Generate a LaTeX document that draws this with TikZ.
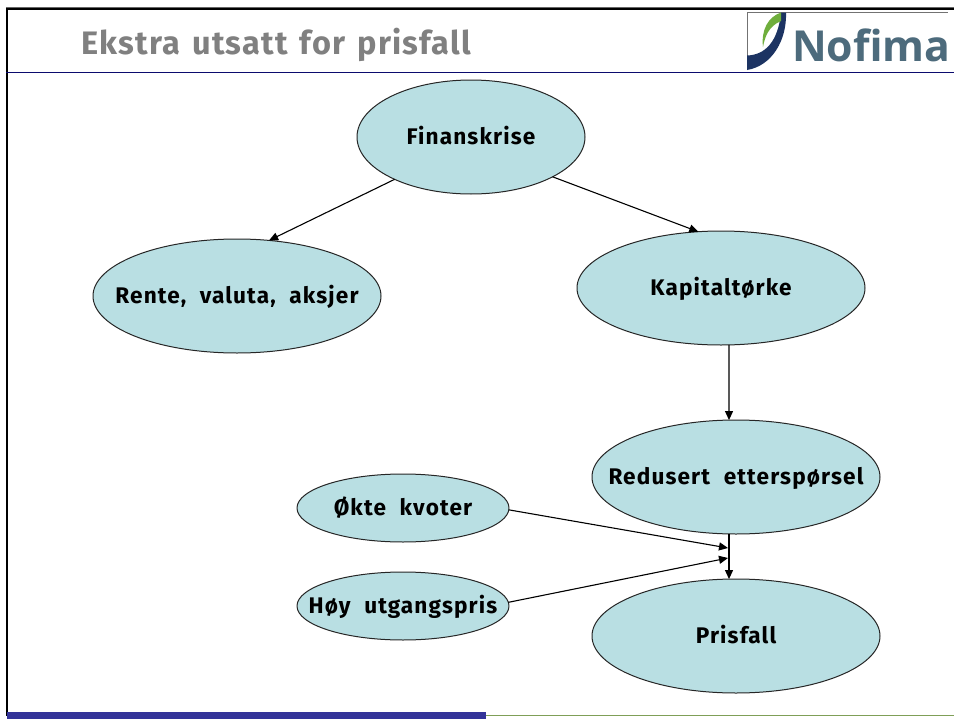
\documentclass[tikz,border=0pt]{standalone}
\usepackage{fontspec}
\setmainfont{Fira Sans}
\newfontfamily\logofont{Open Sans}
\newfontfamily\ovalfont[LetterSpace=5,WordSpace=2.1]{Fira Sans}
\newfontfamily\titlefont[LetterSpace=4,WordSpace=1.3]{Fira Sans}
\usetikzlibrary{arrows.meta,shapes.geometric}
\definecolor{nodefill}{HTML}{B9DFE3}
\definecolor{navyline}{HTML}{0B0B6E}
\definecolor{barblue}{HTML}{333399}
\definecolor{barline}{HTML}{7F9F57}
\definecolor{logotext}{HTML}{4D6B7C}
\definecolor{logonavy}{HTML}{1C3362}
\definecolor{logogreen}{HTML}{6FAE3C}
\newcommand{\ovaltext}[1]{\makebox[0pt][c]{\raisebox{-7pt}[0pt][0pt]{\ovalfont\fontsize{22.6}{26}\selectfont\bfseries #1}}}
\tikzset{
  x=1pt,y=-1pt,
  oval/.style={ellipse,draw=black!85,line width=1pt,fill=nodefill,inner sep=0pt,outer sep=0pt},
  big/.style={oval,minimum width=288pt,minimum height=114pt},
  small/.style={oval,minimum width=212pt,minimum height=68pt},
  link/.style={draw=black,line width=1.1pt,-{Triangle[length=9pt,width=8pt]}}
}
\begin{document}
\begin{tikzpicture}[line join=round]
\useasboundingbox (0,0) rectangle (954,720);
\fill[white] (0,0) rectangle (954,720);
% slide frame
\draw[black!60,line width=1pt] (6,7.5) -- (954,7.5);
\draw[black,line width=2.2pt] (7,9) -- (954,9);
\draw[black,line width=2.2pt] (7,8) -- (7,716);
\draw[navyline,line width=1pt] (6,72) -- (954,72);
\fill[barblue] (7,712) rectangle (486,719);
\draw[barline,line width=1pt] (486,715.5) -- (954,715.5);
% title
\node[anchor=west,text=black!50,inner sep=0pt,font=\titlefont\fontsize{32.5}{38}\selectfont\bfseries] (title) at (81,45) {Ekstra utsatt for prisfall};
% logo
\draw[black!55,line width=0.8pt] (747,70) -- (747,12.5) -- (948,12.5);
\fill[logonavy] (747,70) -- (747,55.5) .. controls (765,55) and (778,42) .. (781,12.5)
   -- (786,12.5) .. controls (787,40) and (772,66) .. (747,70) -- cycle;
\fill[logogreen] (763,47) .. controls (761,30) and (768,17) .. (781,12.5)
   -- (781,21) .. controls (769,26) and (765,36) .. (763,47) -- cycle;
\node[anchor=base west,inner sep=0pt,text=logotext,font=\logofont\fontsize{42.7}{46}\selectfont\bfseries] (logo) at (792,61) {Nofima};
% nodes
\node[oval,minimum width=228pt,minimum height=114pt] (fin) at (471,137) {\ovaltext{Finanskrise}};
\node[big] (rente) at (237,296) {\ovaltext{Rente, valuta, aksjer}};
\node[big] (kap) at (721,288) {\ovaltext{Kapitaltørke}};
\node[big] (red) at (736,477) {\ovaltext{Redusert etterspørsel}};
\node[big] (pris) at (736,636) {\ovaltext{Prisfall}};
\node[small] (okte) at (403,508) {\ovaltext{Økte kvoter}};
\node[small] (hoy) at (403,606) {\ovaltext{Høy utgangspris}};
\coordinate (j1) at (728,548);
\coordinate (j2) at (728,558);
% connectors
\draw[link] (fin.209) -- (rente.60.6);
\draw[link] (fin.-26.6) -- (kap.112.7);
\draw[link] (kap.-82) -- (red.97);
\draw[link] (red.263) -- (pris.97);
\draw[link] (okte.-1.6) -- (j1);
\draw[link] (hoy.2.7) -- (j2);
\end{tikzpicture}
\end{document}
